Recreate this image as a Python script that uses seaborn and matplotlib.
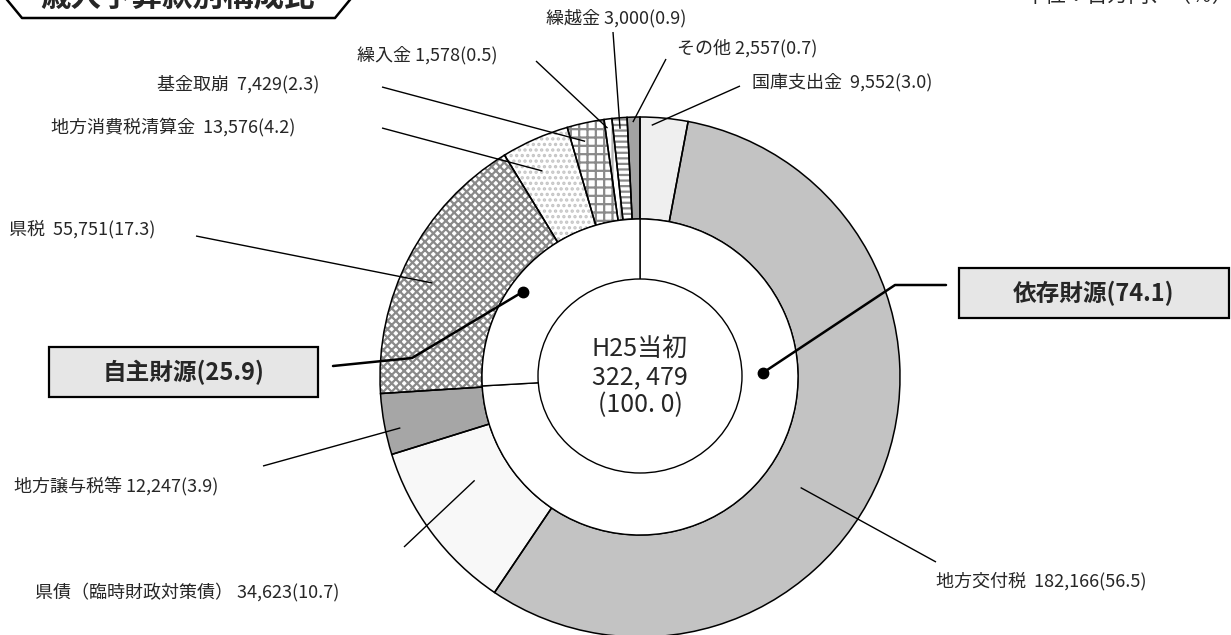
import matplotlib
matplotlib.use("Agg")
import numpy as np
import matplotlib.pyplot as plt
import seaborn as sns
from matplotlib.patches import Rectangle, Ellipse

# --- Data (単位：百万円, %) ---
items = ["国庫支出金", "地方交付税", "県債（臨時財政対策債）", "地方譲与税等", "県税",
         "地方消費税清算金", "基金取崩", "繰入金", "繰越金", "その他"]
amounts = [9552, 182166, 34623, 12247, 55751, 13576, 7429, 1578, 3000, 2557]
shares = ["3.0", "56.5", "10.7", "3.9", "17.3", "4.2", "2.3", "0.5", "0.9", "0.7"]
groups = ["依存財源", "自主財源"]
group_shares = [74.1, 25.9]
center_label = "H25当初\n322, 479\n(100. 0)"
title = "歳入予算款別構成比"
unit_note = "単位：百万円、（％）"

# --- Styling / layout (pixel space of a 1231x635 canvas) ---
W, H = 1231, 635
CX, CY = 640, 377
R_OUT, R_RING_IN, R_HOLE = 260, 158, 88

fills = ["#efefef", "#c3c3c3", "#f8f8f8", "#a6a6a6", "white",
         "white", "white", "white", "white", "#a3a3a3"]
hatches = [None, None, None, None, "xxxx", "...", "++", "||", "---", None]
hatch_cols = ["#efefef", "#c3c3c3", "#f8f8f8", "#a6a6a6", "#8a8a8a",
              "#c4c4c4", "#8a8a8a", "#b5b5b5", "#8a8a8a", "#a3a3a3"]

# text x, text y, separator, line start x, line start y, frac along wedge, radius
label_layout = [
    (752, 82, "  ", 740, 86, 0.25, 252),
    (936, 581, "  ", 936, 562, 0.56, 195),
    (35, 592, " ", 404, 547, 0.62, 195),
    (14, 487, " ", 263, 466, 0.39, 245),
    (9, 229, "  ", 196, 236, 0.45, 228),
    (51, 127, "  ", 382, 128, 0.40, 228),
    (157, 84, "  ", 382, 87, 0.38, 242),
    (357, 55, " ", 536, 61, 0.30, 251),
    (546, 18, " ", 613, 32, 0.48, 249),
    (677, 48, " ", 666, 59, 0.44, 255),
]
# box x0, y0, x1, y1, leader points, frac, radius
group_layout = [
    ((959, 268, 1229, 318), [(946, 285), (895, 285)], 0.33, 123),
    ((49, 347, 318, 397), [(333, 366), (412, 358)], 0.42, 145),
]


def py(y):
    return H - y


def wedge_point(w, frac, r):
    ang = np.deg2rad(w.theta2 - frac * (w.theta2 - w.theta1))
    cx, cy = w.center
    return cx + r * np.cos(ang), cy + r * np.sin(ang)


sns.set_theme(style="white")
plt.rcParams["font.family"] = ["Noto Sans CJK JP", "DejaVu Sans"]
plt.rcParams["hatch.linewidth"] = 1.6

fig = plt.figure(figsize=(W / 100, H / 100), dpi=100)
ax = fig.add_axes([0, 0, 1, 1])

center = (CX, py(CY))
# patterned fills first, outlines on top
fill_wedges, _ = ax.pie(amounts, radius=R_OUT, center=center, startangle=90,
                        counterclock=False, colors=fills,
                        wedgeprops=dict(width=R_OUT - R_RING_IN, linewidth=0))
for w, h, hc in zip(fill_wedges, hatches, hatch_cols):
    w.set_edgecolor(hc)
    w.set_linewidth(0)
    if h:
        w.set_hatch(h)
    w.set_zorder(1)

edge_wedges, _ = ax.pie(amounts, radius=R_OUT, center=center, startangle=90,
                        counterclock=False, colors=["none"] * len(amounts),
                        wedgeprops=dict(width=R_OUT - R_RING_IN, edgecolor="black",
                                        linewidth=1.1, fill=False))
for w in edge_wedges:
    w.set_zorder(2)

inner_wedges, _ = ax.pie(group_shares, radius=R_RING_IN, center=center, startangle=90,
                         counterclock=False, colors=["white", "white"],
                         wedgeprops=dict(width=R_RING_IN - R_HOLE, edgecolor="black",
                                         linewidth=1.0))
for w in inner_wedges:
    w.set_zorder(2)

ax.add_patch(Ellipse((CX, py(376)), 204, 194, facecolor="white", edgecolor="black",
                     linewidth=1.0, zorder=3))
ax.text(CX, py(377), center_label, ha="center", va="center", fontsize=18,
        linespacing=1.1, zorder=4)

# item labels with leader lines
for w, name, amt, share, lay in zip(edge_wedges, items, amounts, shares, label_layout):
    tx, ty, sep, lx, ly, frac, r = lay
    ax.text(tx, py(ty), f"{name}{sep}{amt:,}({share})", ha="left", va="center",
            fontsize=13, zorder=6)
    ex, ey = wedge_point(w, frac, r)
    ax.plot([lx, ex], [py(ly), ey], color="black", lw=1.0, zorder=5,
            solid_capstyle="butt")

# group boxes
for w, name, share, lay in zip(inner_wedges, groups, group_shares, group_layout):
    (x0, y0, x1, y1), pts, frac, r = lay
    ax.add_patch(Rectangle((x0, py(y1)), x1 - x0, y1 - y0, facecolor="#e6e6e6",
                           edgecolor="black", linewidth=1.6, zorder=6))
    ax.text((x0 + x1) / 2, py((y0 + y1) / 2), f"{name}({share})", ha="center",
            va="center", fontsize=17, fontweight="bold", zorder=7)
    dx, dy = wedge_point(w, frac, r)
    xs = [p[0] for p in pts] + [dx]
    ys = [py(p[1]) for p in pts] + [dy]
    ax.plot(xs, ys, color="black", lw=1.8, zorder=5)
    ax.plot([dx], [dy], "o", color="black", ms=7.5, zorder=6)

# title tab (cut off at the top edge, as in the source) and unit note
ax.plot([-1, 22, 335, 358], [py(-10), py(18), py(18), py(-10)], color="black",
        lw=1.8, zorder=6)
ax.text(178, py(13), title, ha="center", va="bottom", fontsize=22,
        fontweight="bold", zorder=7)
ax.text(1025, py(7), unit_note, ha="left", va="bottom", fontsize=15, zorder=7)

ax.set_xlim(0, W)
ax.set_ylim(0, H)
ax.set_aspect("equal")
ax.axis("off")

fig.savefig("out.png", dpi=100, facecolor="white")
